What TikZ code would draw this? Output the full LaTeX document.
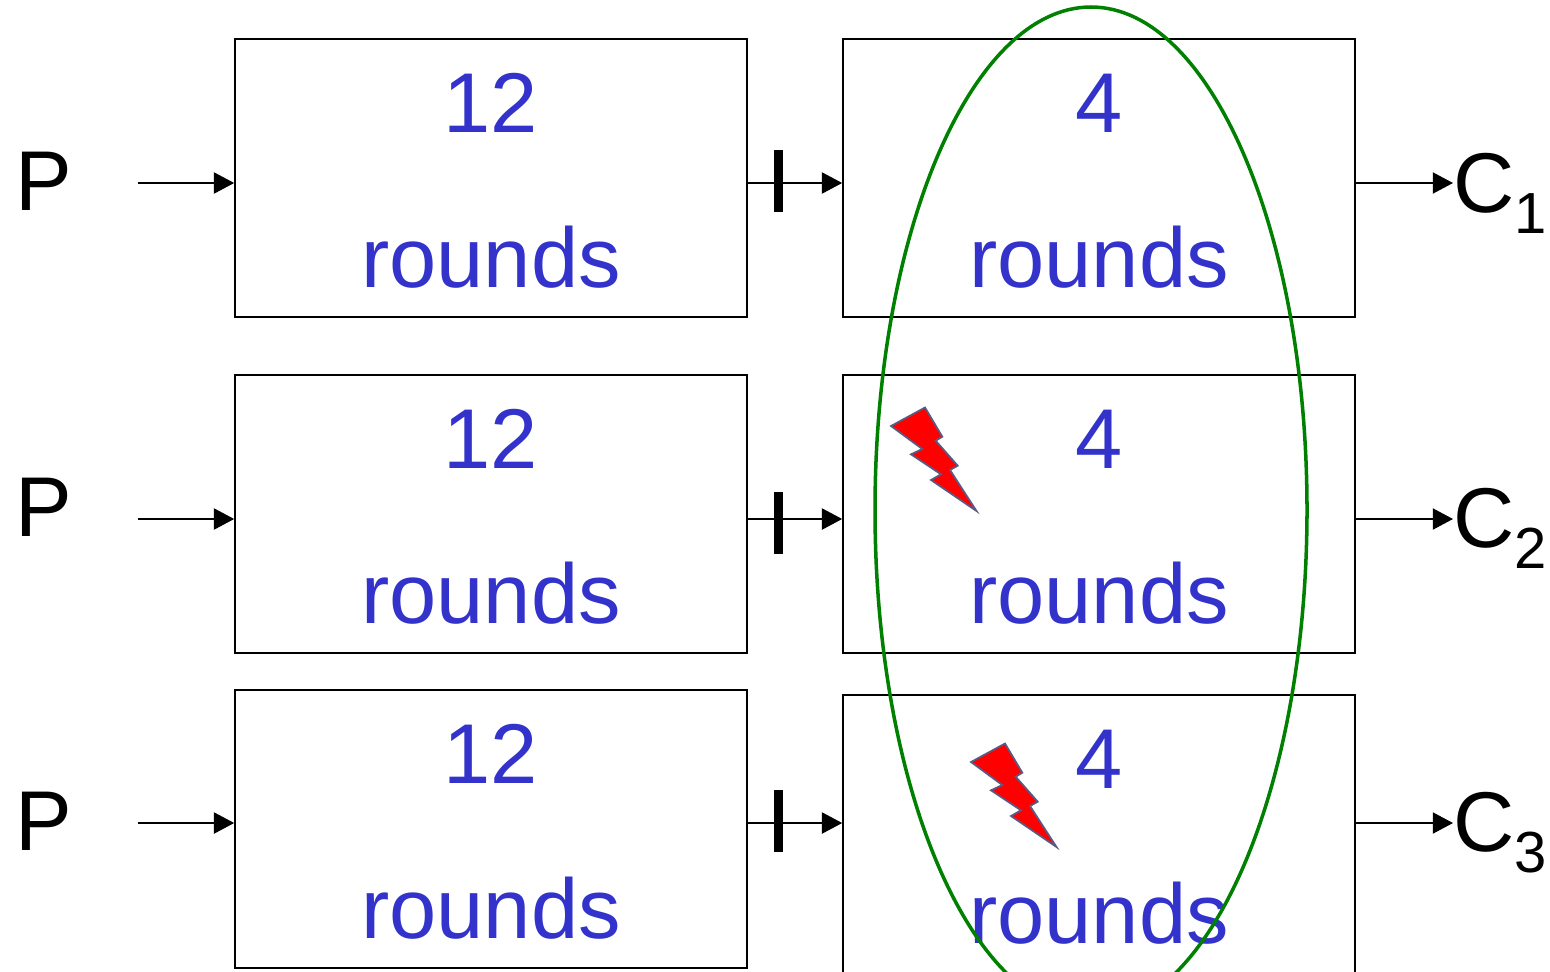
\documentclass[tikz,border=0pt]{standalone}
\usepackage{fontspec}
\setmainfont{Liberation Sans}
\usetikzlibrary{arrows.meta}
\definecolor{roundblue}{RGB}{51,51,204}
\definecolor{ovalgreen}{RGB}{0,128,0}
\definecolor{boltline}{RGB}{90,90,130}
\newcommand{\bigfont}{\fontsize{48.3}{88.4}\selectfont}
\newcommand{\csub}[1]{C\raisebox{-12pt}{\fontsize{33}{33}\selectfont #1}}
\newcommand{\topgap}{\rule{0pt}{37pt}}
\tikzset{
	roundbox/.style={draw, line width=1pt, minimum width=10.24cm, minimum height=5.56cm, inner sep=0pt, align=center, text=roundblue, font=\bigfont},
	flow/.style={-{Triangle[length=11.5pt,width=12pt]}, line width=1pt},
	bar/.style={line width=5pt},
	label/.style={anchor=west, inner sep=0pt, font=\bigfont},
	bolt/.style={fill=red, draw=boltline, line width=1pt, line join=miter}
}
\begin{document}
\begin{tikzpicture}[x=0.02cm, y=-0.02cm]
	\clip (0,0) rectangle (1550,971);
	% rows: number, arrow height, box centres, height of P and C
	\foreach \i/\ya/\yl/\yr/\yp/\yc in {1/183/178/178/181/183, 2/519/514/514/507/518, 3/823/829/834/821/822} {
		\node[roundbox] (lbox\i) at (491,\yl) {\topgap 12\\rounds};
		\node[roundbox] (rbox\i) at (1099,\yr) {\topgap 4\\rounds};
		\node[label] (p\i) at (15,\yp) {P};
		\node[label, anchor=base west] (c\i) at (1453,\yc+29) {\csub{\i}};
		\coordinate (a\i) at (138,\ya);
		\draw[flow] (a\i) -- (lbox\i.west |- a\i);
		\draw[flow] (lbox\i.east |- a\i) -- (rbox\i.west |- a\i);
		\draw[flow] (rbox\i.east |- a\i) -- (c\i.west |- a\i);
	}
	\foreach \i/\ya in {1/181, 2/523, 3/821} {
		\coordinate (bt\i) at (778.5,\ya-31);
		\coordinate (bb\i) at (778.5,\ya+31);
		\draw[bar] (bt\i) -- (bb\i);
	}
	% lightning
	\foreach \i/\dx/\dy in {1/0/0, 2/80/336} {
		\draw[bolt, shift={(\dx,\dy)}] (925,407.5) -- (942.3,436.7) -- (935.7,440.7) -- (957.7,465.7) -- (950,470) -- (976.5,511) -- (931,480) -- (941,474.3) -- (911,454.3) -- (922.3,449) -- (891,426) -- cycle;
	}
	\draw[ovalgreen, line width=2pt] (1091,510) ellipse (216 and 503);
\end{tikzpicture}
\end{document}
